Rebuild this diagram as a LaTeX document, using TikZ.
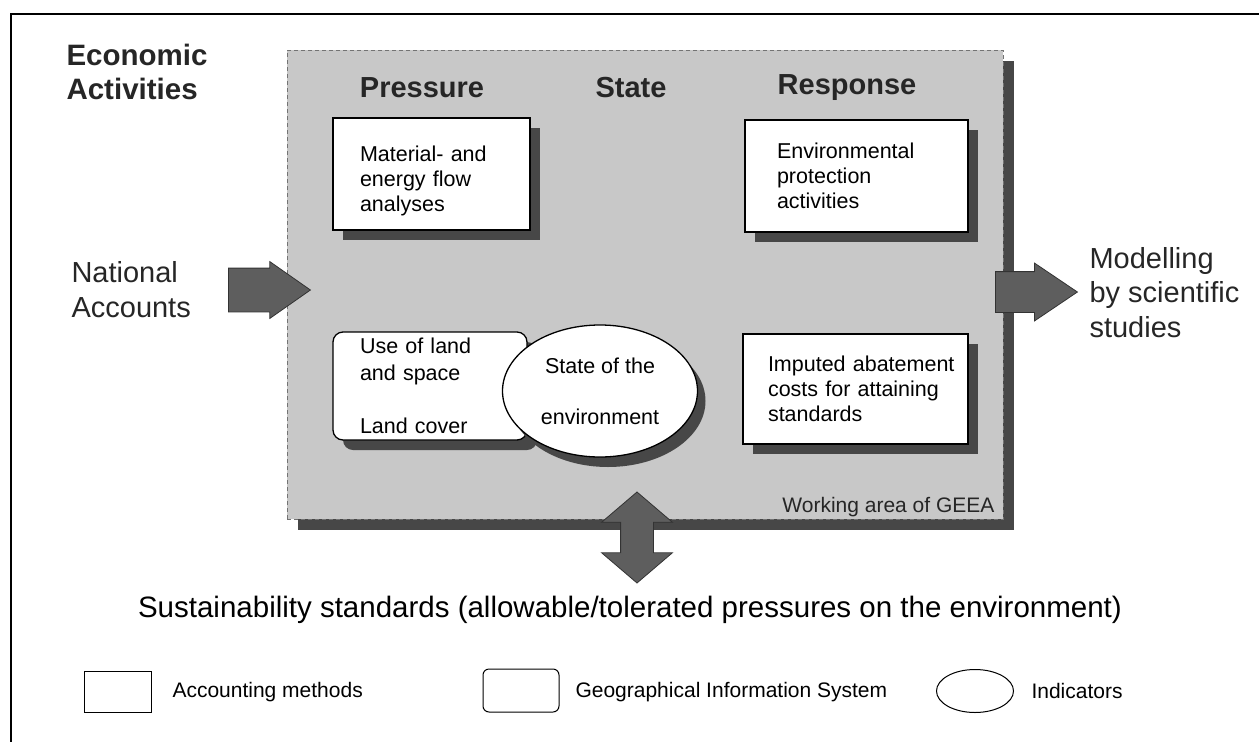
\documentclass[tikz,border=0pt]{standalone}
\usepackage{fontspec}
\setmainfont{Liberation Sans}
\usetikzlibrary{shapes.geometric,shapes.arrows,shadows}
\definecolor{areagray}{HTML}{C8C8C8}
\definecolor{shadowgray}{HTML}{474747}
\definecolor{arrowgray}{HTML}{5E5E5E}
\newcommand\myfs[2]{\fontsize{#1}{#2}\selectfont}
\hyphenpenalty=10000
\exhyphenpenalty=10000
\begin{document}
\begin{tikzpicture}[x=1pt,y=-1pt,
  boxshadow/.style={drop shadow={shadow xshift=10pt,shadow yshift=-10pt,fill=shadowgray,opacity=1}},
  acctbox/.style={rectangle,draw=black,line width=1.3pt,fill=white,boxshadow,align=left,inner xsep=0pt,inner ysep=0pt,font=\myfs{21.5}{25}},
  gisbox/.style={acctbox,rounded corners=10pt},
  indic/.style={ellipse,draw=black,line width=1.3pt,fill=white,inner sep=0pt,align=center,
    drop shadow={shadow xshift=8pt,shadow yshift=-10pt,fill=shadowgray,opacity=1}},
  header/.style={font=\myfs{29}{33}\bfseries,text=black!85},
  bigtext/.style={font=\myfs{29}{35},align=left,text=black!85},
  blockarrow/.style={draw=black!80,line width=0.8pt,fill=arrowgray,inner xsep=0pt},
  legtext/.style={font=\myfs{21}{24},anchor=west},
]
\useasboundingbox (0,0) rectangle (1259,742);
% outer frame (left and top edges)
\coordinate (ftl) at (11,14);
\coordinate (ftr) at (1259,14);
\coordinate (fbl) at (11,742);
\draw[line width=2.2pt] (fbl) -- (ftl) -- (ftr);

% working area of GEEA
\node[rectangle,minimum width=716pt,minimum height=469pt,fill=areagray,draw=black!55,dashed,
  dash pattern=on 4pt off 3pt,line width=1pt,
  drop shadow={shadow xshift=11pt,shadow yshift=-11pt,fill=shadowgray,opacity=1}] (area) at (645,284.5) {};
\node[font=\myfs{21}{24},text=black!85,anchor=base east] (wlabel) at (998,512) {Working area of GEEA};

% headings
\node[font=\myfs{29.5}{34}\bfseries,align=left,anchor=west,text=black!85] (econ) at (63,72) {Economic\\Activities};
\node[header] (press) at (422,88) {Pressure};
\node[header] (state) at (631,88) {State};
\node[header] (resp) at (847,88) {Response};

% accounting method boxes
\node[acctbox,minimum width=197pt,minimum height=112pt,text width=143pt] (mefa) at (431.5,174) {\rule{0pt}{30pt}Material- and\\energy flow\\analyses};
\node[acctbox,minimum width=223pt,minimum height=112pt,text width=159pt] (epa) at (856.5,176) {Environmental\\protection\\activities};
\node[acctbox,minimum width=225pt,minimum height=110pt,text width=175pt] (iac) at (855.5,389) {\mbox{Imputed abatement}\\\mbox{costs for attaining}\\standards};

% GIS box and indicator
\node[gisbox,minimum width=194pt,minimum height=108pt,text width=140pt,font=\myfs{21.5}{26.7}] (land) at (430,386) {Use of land\\and space\\[26.7pt]Land cover};
\node[indic,minimum width=195pt,minimum height=132pt,font=\myfs{21.5}{51}] (soe) at (600,391) {State of the\\environment};

% side texts
\node[bigtext,anchor=west] (na) at (68,289.5) {National\\Accounts};
\node[bigtext,anchor=west,font=\myfs{29}{34.5}] (mod) at (1086,292.5) {Modelling\\by scientific\\studies};

% block arrows
\node[blockarrow,single arrow,inner ysep=21.5pt,minimum height=82pt,single arrow head extend=6.5pt,
  single arrow tip angle=70,anchor=tail] (larr) at (228,290) {};
\node[blockarrow,single arrow,inner ysep=20pt,minimum height=82pt,single arrow head extend=8.5pt,
  single arrow tip angle=68,anchor=tail] (rarr) at (995,292) {};
\node[blockarrow,double arrow,inner ysep=16pt,minimum height=91pt,double arrow head extend=19pt,
  double arrow tip angle=99,rotate=90] (darr) at (637,537.5) {};

% standards
\node[font=\myfs{29.5}{34},text=black] (std) at (630,610) {Sustainability standards (allowable/tolerated pressures on the environment)};

% legend
\node[rectangle,draw=black,line width=1pt,minimum width=67pt,minimum height=41pt,inner sep=0pt] (lg1) at (117.5,691.5) {};
\node[legtext] (lt1) at (169,692) {Accounting methods};
\node[rectangle,rounded corners=6pt,draw=black,line width=1pt,minimum width=76pt,minimum height=43pt,inner sep=0pt] (lg2) at (521,690.5) {};
\node[legtext] (lt2) at (572,692) {Geographical Information System};
\node[ellipse,draw=black,line width=1pt,minimum width=77pt,minimum height=43pt,inner sep=0pt] (lg3) at (975,691) {};
\node[legtext] (lt3) at (1028,691) {Indicators};
\end{tikzpicture}
\end{document}
